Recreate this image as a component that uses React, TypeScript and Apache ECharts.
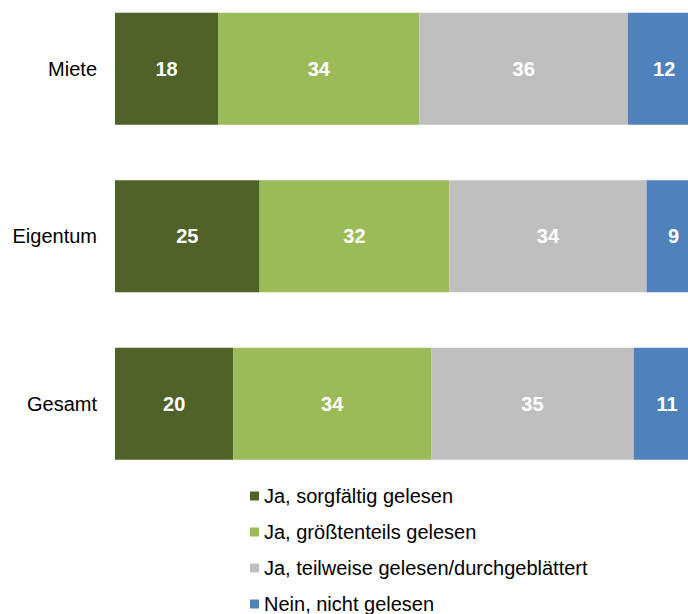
import React, { useEffect, useRef } from "react";
import * as echarts from "echarts";

const categories = ["Miete", "Eigentum", "Gesamt"];
const seriesNames = [
  "Ja, sorgfältig gelesen",
  "Ja, größtenteils gelesen",
  "Ja, teilweise gelesen/durchgeblättert",
  "Nein, nicht gelesen",
];
// percentages (labels show rounded values)
const sorgfaeltig = [17.6, 24.7, 20.2];
const groesstenteils = [34.4, 32.4, 33.8];
const teilweise = [35.6, 33.7, 34.6];
const nicht = [12.4, 9.2, 11.4];
const colors = ["#4F6228", "#9BBB59", "#BFBFBF", "#4F81BD"];

export default function App() {
  const ref = useRef<HTMLDivElement>(null);
  useEffect(() => {
    if (!ref.current) return;
    const chart = echarts.init(ref.current, null, { renderer: "svg" });
    const data = [sorgfaeltig, groesstenteils, teilweise, nicht];
    chart.setOption({
      animation: false,
      textStyle: { fontFamily: "Liberation Sans, Arial, sans-serif" },
      grid: { left: 115, width: 585.5, top: 0, height: 502.5 },
      legend: {
        orient: "vertical",
        left: 245,
        top: 496,
        height: 200,
        itemWidth: 9,
        itemHeight: 9,
        itemGap: 16,
        icon: "rect",
        selectedMode: false,
        textStyle: { fontSize: 20, color: "#000", lineHeight: 20 },
        data: seriesNames,
      },
      xAxis: {
        type: "value",
        min: 0,
        max: 100,
        show: false,
      },
      yAxis: {
        type: "category",
        inverse: true,
        data: categories,
        axisLine: { show: false },
        axisTick: { show: false },
        axisLabel: { fontSize: 20, color: "#000", margin: 18 },
      },
      series: seriesNames.map((name, i) => ({
        name,
        type: "bar",
        stack: "total",
        barWidth: 112,
        itemStyle: { color: colors[i] },
        label: {
          show: true,
          position: "inside",
          color: "#fff",
          fontWeight: "bold",
          fontSize: 20,
          formatter: (p: any) => String(Math.round(p.value)),
        },
        data: data[i],
      })),
    });
    return () => chart.dispose();
  }, []);
  return (
    <div style={{ position: "absolute", left: 0, top: 0, width: 688, height: 614, overflow: "hidden" }}>
      <div ref={ref} style={{ width: 702, height: 680, position: "absolute", left: 0, top: -15 }} />
    </div>
  );
}
